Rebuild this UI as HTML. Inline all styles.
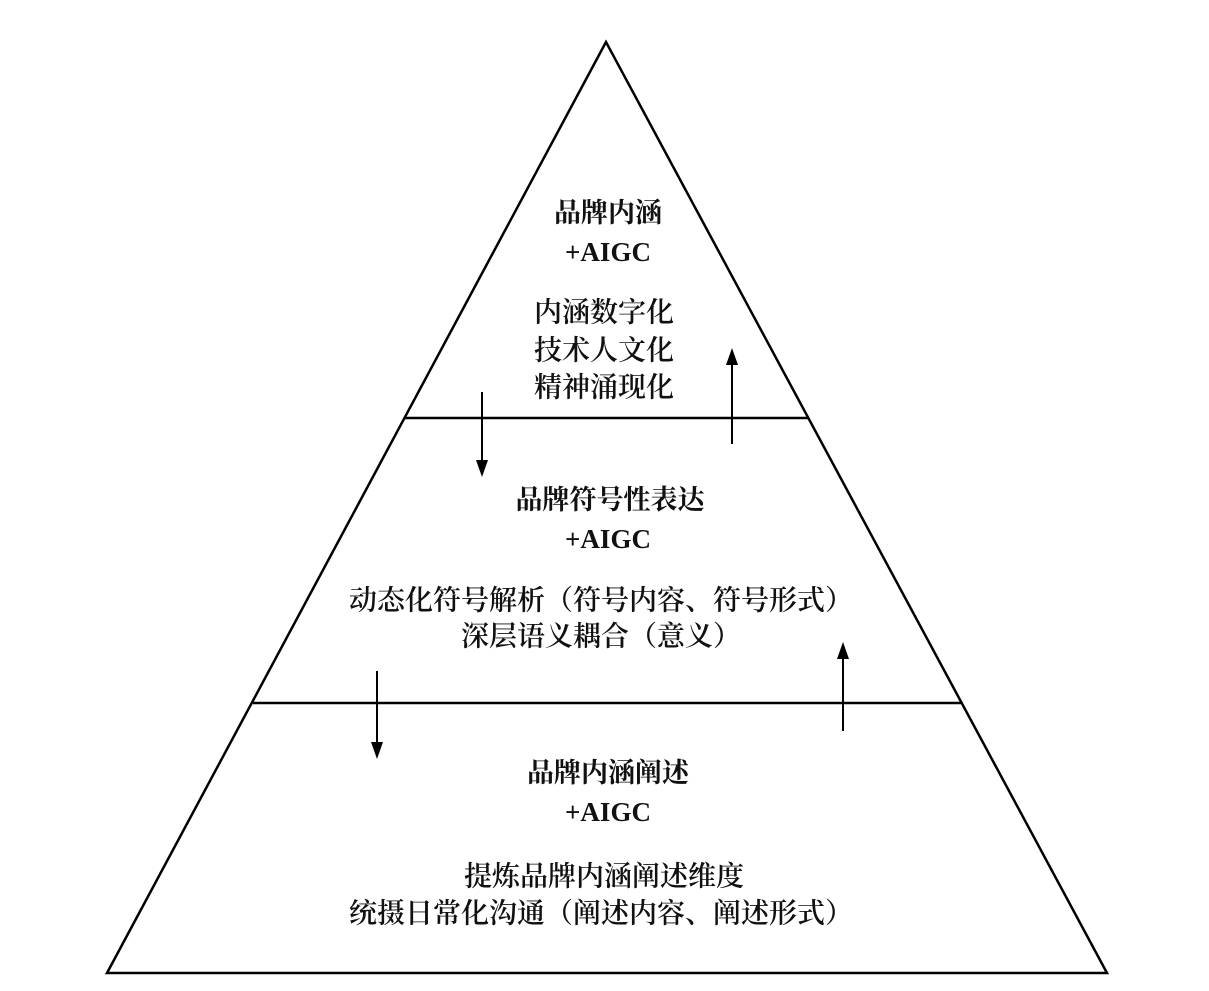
<!DOCTYPE html>
<html><head><meta charset="utf-8"><style>
html,body{margin:0;padding:0;background:#fff;}
svg{display:block;}
text{font-family:"Liberation Serif","Noto Serif CJK SC",serif;fill:#111;text-anchor:middle;dominant-baseline:central;}
.t{font-size:27px;font-weight:bold;}
.b{font-size:28px;font-weight:600;}
</style></head><body>
<svg width="1209" height="991" viewBox="0 0 1209 991">
<polygon points="606,42 107,973 1107,973" fill="none" stroke="#000" stroke-width="2.5"/>
<line x1="405" y1="418" x2="808" y2="418" stroke="#000" stroke-width="2.5"/>
<line x1="253" y1="703" x2="961" y2="703" stroke="#000" stroke-width="2.5"/>
<g stroke="#000" stroke-width="2">
<line x1="482" y1="392" x2="482" y2="462"/>
<line x1="732" y1="444" x2="732" y2="362"/>
<line x1="377" y1="671" x2="377" y2="745"/>
<line x1="843" y1="731" x2="843" y2="656"/>
</g>
<g fill="#000">
<polygon points="476,460 488,460 482,477"/>
<polygon points="726,365 738,365 732,348"/>
<polygon points="371,742 383,742 377,759"/>
<polygon points="837,659 849,659 843,642"/>
</g>
<text class="t" x="608" y="213">品牌内涵</text>
<text class="t" x="608" y="252">+AIGC</text>
<text class="b" x="604" y="313">内涵数字化</text>
<text class="b" x="604" y="351">技术人文化</text>
<text class="b" x="604" y="388">精神涌现化</text>
<text class="t" x="610" y="500">品牌符号性表达</text>
<text class="t" x="608" y="539">+AIGC</text>
<text class="b" x="601" y="601">动态化符号解析（符号内容、符号形式）</text>
<text class="b" x="601" y="637">深层语义耦合（意义）</text>
<text class="t" x="608" y="773">品牌内涵阐述</text>
<text class="t" x="608" y="812">+AIGC</text>
<text class="b" x="604" y="877">提炼品牌内涵阐述维度</text>
<text class="b" x="601" y="914">统摄日常化沟通（阐述内容、阐述形式）</text>
</svg>
</body></html>
